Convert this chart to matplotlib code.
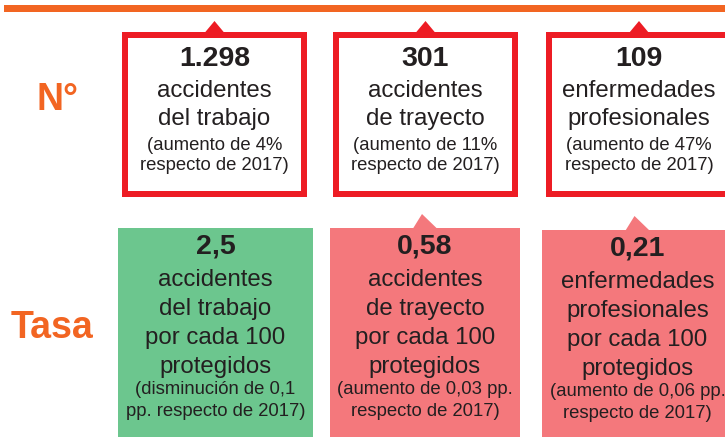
import matplotlib
matplotlib.use("Agg")
import matplotlib.pyplot as plt
from matplotlib.patches import Rectangle, Polygon

plt.rcParams['font.family'] = ['Liberation Sans', 'DejaVu Sans']

row_labels = ["N°", "Tasa"]
top_values = ["1.298", "301", "109"]
top_desc = [["accidentes", "del trabajo"],
            ["accidentes", "de trayecto"],
            ["enfermedades", "profesionales"]]
top_note = [["(aumento de 4%", "respecto de 2017)"],
            ["(aumento de 11%", "respecto de 2017)"],
            ["(aumento de 47%", "respecto de 2017)"]]
top_trend = ["up", "up", "up"]

rate_values = ["2,5", "0,58", "0,21"]
rate_desc = [["accidentes", "del trabajo", "por cada 100", "protegidos"],
             ["accidentes", "de trayecto", "por cada 100", "protegidos"],
             ["enfermedades", "profesionales", "por cada 100", "protegidos"]]
rate_note = [["(disminución de 0,1", "pp. respecto de 2017)"],
             ["(aumento de 0,03 pp.", "respecto de 2017)"],
             ["(aumento de 0,06 pp.", "respecto de 2017)"]]
rate_trend = ["down", "up", "up"]

ORANGE = "#f26522"
RED = "#ed1c24"
GREEN = "#6cc68e"
PINK = "#f4787c"
TXT = "#231f20"

NUM_FS = 20.5
BODY_FS = 17.3
NOTE_FS = 13.3

fig = plt.figure(figsize=(7.25, 4.37), dpi=100)
ax = fig.add_axes([0, 0, 1, 1])
ax.set_xlim(0, 725)
ax.set_ylim(437, 0)
ax.axis("off")

# orange header line
ax.add_patch(Rectangle((4, 5), 725, 7, facecolor=ORANGE, edgecolor="none"))

# row labels
ax.text(58, 100, row_labels[0], color=ORANGE, fontsize=27, fontweight="bold",
        ha="center", va="center")
ax.text(52, 328, row_labels[1], color=ORANGE, fontsize=27, fontweight="bold",
        ha="center", va="center")

# top boxes
top_boxes = [(122, 307), (333, 518), (546, 732)]
for i, (x0, x1) in enumerate(top_boxes):
    lw = 6
    ax.add_patch(Rectangle((x0 + lw / 2, 32 + lw / 2), x1 - x0 - lw, 197 - 32 - lw,
                           facecolor="white", edgecolor=RED, linewidth=lw * 0.72))
    cx = (x0 + x1) / 2
    if top_trend[i] == "up":
        ax.add_patch(Polygon([[cx - 10, 33], [cx + 10, 33], [cx, 21]],
                             closed=True, facecolor=RED, edgecolor="none"))
    ax.text(cx, 59, top_values[i], color=TXT, fontsize=NUM_FS, fontweight="bold",
            ha="center", va="center")
    for j, line in enumerate(top_desc[i]):
        ax.text(cx, 91 + j * 28.5, line, color=TXT, fontsize=BODY_FS,
                ha="center", va="center")
    for j, line in enumerate(top_note[i]):
        ax.text(cx, 146 + j * 20, line, color=TXT, fontsize=NOTE_FS,
                ha="center", va="center")

# rate boxes
rate_boxes = [(118, 313, 228), (330, 520, 228), (542, 733, 230)]
for i, (x0, x1, y0) in enumerate(rate_boxes):
    col = GREEN if rate_trend[i] == "down" else PINK
    ax.add_patch(Rectangle((x0, y0), x1 - x0, 437 - y0 + 5,
                           facecolor=col, edgecolor="none"))
    cx = (x0 + x1) / 2
    if rate_trend[i] == "up":
        ax.add_patch(Polygon([[cx - 12, y0 + 0.5], [cx + 12, y0 + 0.5], [cx - 3, y0 - 14]],
                             closed=True, facecolor=col, edgecolor="none"))
    tc = cx
    ax.text(tc, y0 + 19, rate_values[i], color=TXT, fontsize=NUM_FS, fontweight="bold",
            ha="center", va="center")
    for j, line in enumerate(rate_desc[i]):
        ax.text(tc, y0 + 52 + j * 29, line, color=TXT, fontsize=BODY_FS,
                ha="center", va="center")
    for j, line in enumerate(rate_note[i]):
        ax.text(tc, y0 + 162 + j * 21, line, color=TXT, fontsize=NOTE_FS,
                ha="center", va="center")

fig.savefig("out.png", dpi=100)
